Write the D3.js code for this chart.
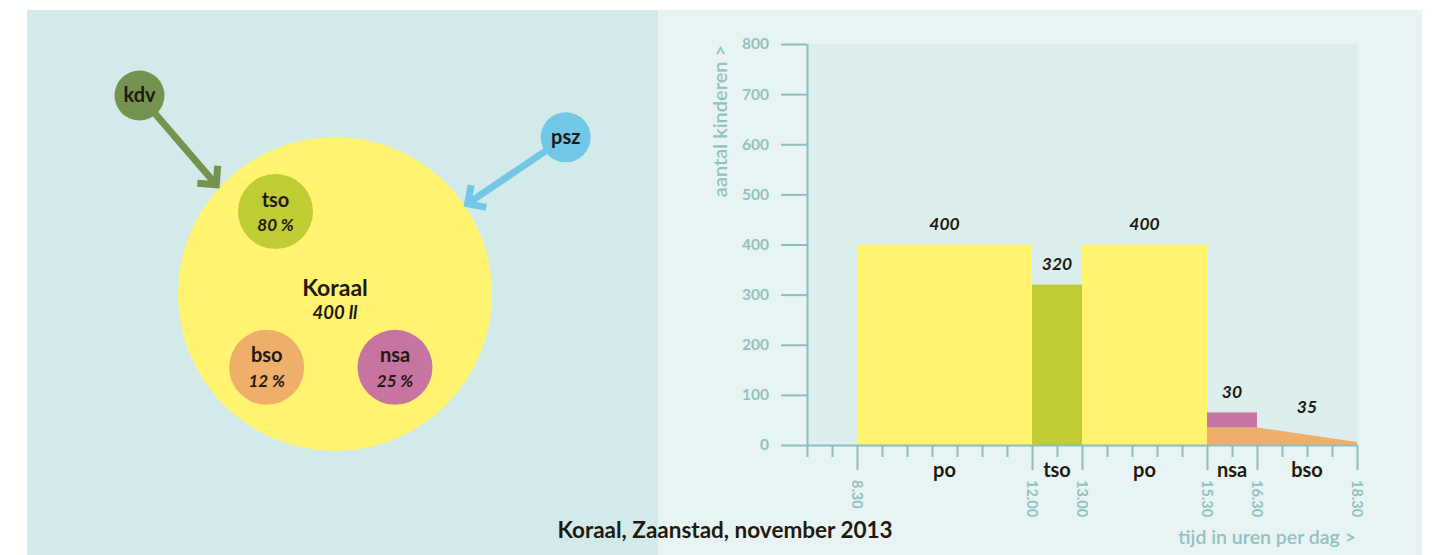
<!DOCTYPE html>
<html><head><meta charset="utf-8">
<script src="https://cdn.jsdelivr.net/npm/d3@7"></script>
<style>body{margin:0;background:#fff;} svg{display:block;} text{font-family:Lato,"Open Sans",sans-serif;}</style>
</head><body><svg id="c" width="1433" height="555"></svg>
<script>
// ---------- data ----------
const yTicks = [0,100,200,300,400,500,600,700,800];
const timeTickValues = [8.5,12,13,15.5,16.5,18.5];
const timeTickLabels = ["8.30","12.00","13.00","15.30","16.30","18.30"];
const barCategories = ["po","tso","po"];
const barStart = [8.5,12,13];
const barEnd = [12,13,15.5];
const barValues = [400,320,400];
const nsaStart = 15.5, nsaEnd = 16.5, nsaBase = 35, nsaValue = 30;
const bsoTimes = [15.5,16.5,18.5];
const bsoValues = [35,35,6];
const bsoLabel = 35;
const segLabels = ["po","tso","po","nsa","bso"];
const segStart = [8.5,12,13,15.5,16.5];
const segEnd = [12,13,15.5,16.5,18.5];
const feeders = ["kdv","psz"];
const groups = ["tso","bso","nsa"];
const groupPct = [80,12,25];
const schoolName = "Koraal";
const schoolPupils = 400;
const yTitle = "aantal kinderen >";
const xTitle = "tijd in uren per dag >";
const footer = "Koraal, Zaanstad, november 2013";

// ---------- styles / layout ----------
const C = {yellow:"#fff370", tso:"#bfcc33", nsa:"#c874a0", bso:"#efae6a", kdv:"#76924f", psz:"#72c6e6",
  dark:"#1f1a0f", axis:"#8fbdbb", axisText:"#93c1bf", left:"#d3eaeb", right:"#e8f4f4", plot:"#dceeee"};
const groupColor = {tso:C.tso, bso:C.bso, nsa:C.nsa, po:C.yellow};

const svg = d3.select("#c");
svg.append("rect").attr("x",0).attr("y",0).attr("width",1433).attr("height",555).attr("fill","#fff");
svg.append("rect").attr("x",27).attr("y",10).attr("width",631).attr("height",545).attr("fill",C.left);
svg.append("rect").attr("x",658).attr("y",10).attr("width",764).attr("height",545).attr("fill",C.right);

// ---------- chart ----------
const x = d3.scaleLinear().domain([7.5,18.5]).range([807,1357]);
const y = d3.scaleLinear().domain([0,800]).range([445,44]);

svg.append("rect").attr("x",x(7.5)).attr("y",y(800)).attr("width",x(18.5)-x(7.5)+1).attr("height",y(0)-y(800)).attr("fill",C.plot);

const bars = barValues.map((v,i)=>({c:barCategories[i], s:barStart[i], e:barEnd[i], v}));
svg.selectAll("rect.bar").data(bars).enter().append("rect").attr("class","bar")
  .attr("x",d=>x(d.s)).attr("width",d=>x(d.e)-x(d.s))
  .attr("y",d=>y(d.v)).attr("height",d=>y(0)-y(d.v))
  .attr("fill",d=>groupColor[d.c]);

const bsoData = bsoTimes.map((t,i)=>({t, v:bsoValues[i]}));
svg.append("path").datum(bsoData)
  .attr("d", d3.area().x(d=>x(d.t)).y0(y(0)).y1(d=>y(d.v)))
  .attr("fill",C.bso);
svg.append("rect").attr("x",x(nsaStart)).attr("width",x(nsaEnd)-x(nsaStart))
  .attr("y",y(nsaBase+nsaValue)).attr("height",y(nsaBase)-y(nsaBase+nsaValue)).attr("fill",C.nsa);

// value labels
const valLabels = bars.map(d=>({cx:(d.s+d.e)/2, top:d.v, t:d.v}))
  .concat([{cx:(nsaStart+nsaEnd)/2, top:nsaBase+nsaValue, t:nsaValue},
           {cx:(segStart[4]+segEnd[4])/2, top:bsoValues[1], t:bsoLabel}]);
svg.selectAll("text.val").data(valLabels).enter().append("text").attr("class","val")
  .attr("x",d=>x(d.cx)).attr("y",d=>y(d.top)-14.5)
  .attr("text-anchor","middle").attr("font-size",17.5).attr("font-weight",700).attr("font-style","italic")
  .attr("fill",C.dark).text(d=>d.t);

// y axis
const yAxis = svg.append("g").attr("transform",`translate(${x(7.5)},0)`)
  .call(d3.axisLeft(y).tickValues(yTicks).tickSize(26).tickSizeOuter(0).tickPadding(12));
yAxis.select(".domain").attr("stroke",C.axis).attr("stroke-width",2);
yAxis.selectAll(".tick line").attr("stroke",C.axis).attr("stroke-width",2);
yAxis.selectAll(".tick text").attr("fill",C.axisText).attr("font-size",15.5).attr("font-weight",700)
  .attr("font-family","Lato, sans-serif");

// x axis: half-hour ticks
const halfHours = d3.range(7.5, 18.5001, 0.5);
const xAxis = svg.append("g").attr("transform",`translate(0,${y(0)})`)
  .call(d3.axisBottom(x).tickValues(halfHours).tickSize(12).tickSizeOuter(0).tickFormat(""));
xAxis.select(".domain").attr("stroke",C.axis).attr("stroke-width",2);
xAxis.selectAll(".tick line").attr("stroke",C.axis).attr("stroke-width",2)
  .attr("y2", d=>timeTickValues.includes(d)?25:12);

svg.selectAll("text.tl").data(timeTickValues).enter().append("text").attr("class","tl")
  .attr("transform",d=>`translate(${x(d)},480) rotate(90)`)
  .attr("dy","0.32em").attr("font-size",14.5).attr("font-weight",700).attr("fill",C.axisText)
  .text((d,i)=>timeTickLabels[i]);

// category labels
svg.selectAll("text.seg").data(segLabels).enter().append("text").attr("class","seg")
  .attr("x",(d,i)=>x((segStart[i]+segEnd[i])/2)).attr("y",477)
  .attr("text-anchor","middle").attr("font-size",20).attr("font-weight",700).attr("fill",C.dark).text(d=>d);

// titles
svg.append("text").attr("transform","translate(727,121) rotate(-90)").attr("text-anchor","middle")
  .attr("font-size",20).attr("font-weight",600).attr("fill",C.axisText).text(yTitle);
svg.append("text").attr("x",1356).attr("y",544).attr("text-anchor","end")
  .attr("font-size",19.5).attr("font-weight",600).attr("fill",C.axisText).text(xTitle);
svg.append("text").attr("x",725).attr("y",538).attr("text-anchor","middle")
  .attr("font-size",22.5).attr("font-weight",700).attr("fill",C.dark).text(footer);

// ---------- diagram (left) ----------
const school = {cx:335, cy:294, r:157};
const feederPos = {kdv:{cx:139.5,cy:95.5,r:25, tip:[219.5,188.5]}, psz:{cx:565.7,cy:137.3,r:25, tip:[463.5,206.5]}};
const groupPos = {tso:{cx:275.5,cy:211.5}, bso:{cx:266.7,cy:367.3}, nsa:{cx:395,cy:367.3}};
const groupR = 37.5;

svg.append("circle").attr("cx",school.cx).attr("cy",school.cy).attr("r",school.r).attr("fill",C.yellow);

feeders.forEach(f=>{
  const p = feederPos[f];
  const dx = p.tip[0]-p.cx, dy = p.tip[1]-p.cy, L = Math.hypot(dx,dy);
  const ux = dx/L, uy = dy/L;
  const w = 7, back = (w/2)/Math.sin(Math.PI/4);
  const vx = p.tip[0]-ux*back, vy = p.tip[1]-uy*back;
  svg.append("line").attr("x1",p.cx).attr("y1",p.cy).attr("x2",vx).attr("y2",vy)
    .attr("stroke",C[f]).attr("stroke-width",w);
  const arm = 19, a = Math.PI/4;
  const rot = (ang)=>[-ux*Math.cos(ang)+uy*Math.sin(ang), -ux*Math.sin(ang)-uy*Math.cos(ang)];
  const r1 = rot(a), r2 = rot(-a);
  svg.append("path").attr("d",`M${vx+r1[0]*arm},${vy+r1[1]*arm}L${vx},${vy}L${vx+r2[0]*arm},${vy+r2[1]*arm}`)
    .attr("fill","none").attr("stroke",C[f]).attr("stroke-width",w).attr("stroke-linejoin","miter");
});
feeders.forEach(f=>{
  const p = feederPos[f];
  svg.append("circle").attr("cx",p.cx).attr("cy",p.cy).attr("r",p.r).attr("fill",C[f]);
  svg.append("text").attr("x",p.cx).attr("y",p.cy+6.5).attr("text-anchor","middle")
    .attr("font-size",20).attr("font-weight",700).attr("fill",C.dark).text(f);
});

groups.forEach((g,i)=>{
  const p = groupPos[g];
  svg.append("circle").attr("cx",p.cx).attr("cy",p.cy).attr("r",groupR).attr("fill",groupColor[g]);
  svg.append("text").attr("x",p.cx).attr("y",p.cy-5).attr("text-anchor","middle")
    .attr("font-size",20).attr("font-weight",700).attr("fill",C.dark).text(g);
  svg.append("text").attr("x",p.cx).attr("y",p.cy+19.5).attr("text-anchor","middle")
    .attr("font-size",17).attr("font-weight",700).attr("font-style","italic").attr("fill",C.dark).text(groupPct[i]+" %");
});

svg.append("text").attr("x",school.cx).attr("y",296).attr("text-anchor","middle")
  .attr("font-size",23).attr("font-weight",700).attr("fill",C.dark).text(schoolName);
svg.append("text").attr("x",school.cx).attr("y",319).attr("text-anchor","middle")
  .attr("font-size",18.5).attr("font-weight",700).attr("font-style","italic").attr("fill",C.dark).text(schoolPupils+" ll");
</script></body></html>
